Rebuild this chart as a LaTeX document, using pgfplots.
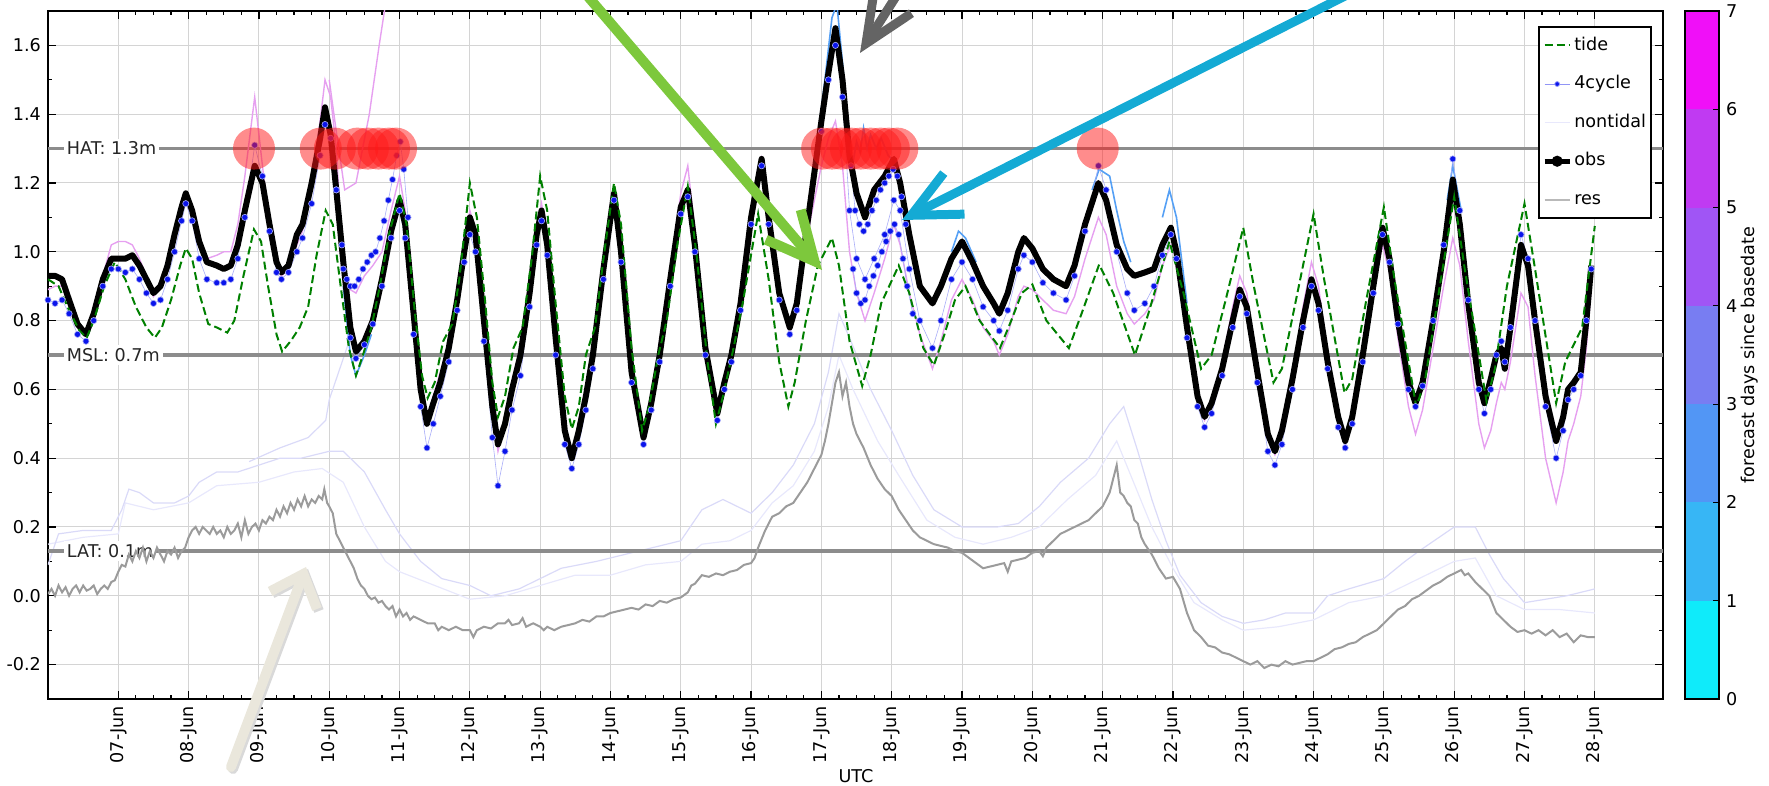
\documentclass[border=0pt]{standalone}
\usepackage{fontspec}
\setmainfont{DejaVu Sans}
\usepackage{pgfplots}
\pgfplotsset{compat=1.18}
\usepackage{pgfplotstable}
\usetikzlibrary{arrows.meta}

\definecolor{tidegreen}{RGB}{0,128,0}
\definecolor{dotblue}{RGB}{10,20,235}
\definecolor{pinkfc}{RGB}{230,160,240}
\definecolor{lbfc}{RGB}{85,160,245}
\definecolor{ntA}{RGB}{218,218,248}
\definecolor{ntB}{RGB}{232,232,252}
\definecolor{resgray}{RGB}{155,155,155}
\definecolor{hlgray}{RGB}{140,140,140}
\definecolor{blobred}{RGB}{255,25,25}
\definecolor{c0}{RGB}{15,235,250}
\definecolor{c1}{RGB}{55,182,245}
\definecolor{c2}{RGB}{82,150,245}
\definecolor{c3}{RGB}{120,125,242}
\definecolor{c4}{RGB}{160,85,245}
\definecolor{c5}{RGB}{192,58,242}
\definecolor{c6}{RGB}{240,15,248}
\definecolor{greenarrow}{RGB}{125,200,60}
\definecolor{grayarrow}{RGB}{100,100,100}
\definecolor{bluearrow}{RGB}{20,170,212}
\definecolor{beigearrow}{RGB}{234,231,220}

\newcommand{\lblfont}{\fontsize{8.8}{10.5}\selectfont}

\pgfplotstableread{
t obs b1 pk
6.00 0.93 0.86 0.89
6.10 0.93 0.85 0.90
6.20 0.92 0.86 0.90
6.30 0.86 0.82 0.86
6.42 0.79 0.76 0.79
6.54 0.76 0.74 0.76
6.65 0.82 0.80 0.82
6.78 0.92 0.90 0.93
6.90 0.98 0.95 1.02
7.00 0.98 0.95 1.03
7.10 0.98 0.94 1.03
7.20 0.99 0.95 1.02
7.30 0.96 0.92 0.98
7.40 0.92 0.88 0.93
7.50 0.88 0.85 0.87
7.60 0.90 0.86 0.90
7.70 0.96 0.92 0.97
7.80 1.05 1.00 1.05
7.90 1.13 1.09 1.12
7.96 1.17 1.14 1.16
8.05 1.12 1.09 1.11
8.15 1.03 0.98 1.02
8.26 0.97 0.92 0.98
8.40 0.96 0.91 0.99
8.50 0.95 0.91 1.00
8.60 0.96 0.92 1.00
8.70 1.02 0.98 1.08
8.80 1.12 1.10 1.22
8.94 1.25 1.31 1.45
9.05 1.20 1.22 1.25
9.15 1.08 1.06 1.08
9.25 0.97 0.94 0.96
9.32 0.94 0.92 0.93
9.42 0.96 0.94 0.95
9.54 1.05 1.00 1.02
9.62 1.08 1.04 1.06
9.75 1.20 1.14 1.20
9.87 1.33 1.28 1.38
9.94 1.42 1.37 1.50
10.02 1.34 1.33 1.45
10.10 1.18 1.18 1.30
10.20 0.97 0.95 0.95
10.30 0.78 0.75 0.89
10.38 0.71 0.69 0.88
10.50 0.74 0.73 0.93
10.62 0.80 0.79 0.96
10.75 0.92 0.90 1.00
10.88 1.06 1.04 1.12
11.00 1.15 1.12 1.22
11.08 1.08 1.04 1.12
11.20 0.82 0.76 0.84
11.30 0.60 0.55 0.62
11.39 0.50 0.43 0.50
11.48 0.56 0.50 0.58
11.58 0.62 0.58 0.65
11.70 0.72 0.68 0.74
11.82 0.86 0.83 0.88
11.92 1.00 0.97 1.02
12.00 1.10 1.05 1.12
12.08 1.05 1.00 1.06
12.20 0.80 0.74 0.80
12.32 0.55 0.46 0.54
12.40 0.44 0.32 0.42
12.50 0.50 0.42 0.50
12.60 0.60 0.54 0.60
12.72 0.70 0.64 0.70
12.85 0.88 0.84 0.88
12.95 1.05 1.02 1.06
13.02 1.12 1.09 1.14
13.10 1.02 0.99 1.03
13.22 0.75 0.70 0.76
13.35 0.48 0.44 0.49
13.45 0.40 0.37 0.40
13.55 0.48 0.44 0.48
13.65 0.58 0.54 0.58
13.75 0.70 0.66 0.70
13.90 0.95 0.92 0.95
14.05 1.17 1.15 1.18
14.15 1.00 0.97 1.00
14.30 0.65 0.62 0.65
14.47 0.46 0.44 0.46
14.58 0.56 0.54 0.57
14.70 0.70 0.68 0.71
14.85 0.92 0.90 0.94
15.00 1.13 1.11 1.17
15.10 1.18 1.16 1.25
15.20 1.02 1.00 1.06
15.35 0.72 0.70 0.74
15.52 0.53 0.51 0.53
15.62 0.62 0.60 0.63
15.72 0.70 0.68 0.72
15.85 0.85 0.83 0.87
16.00 1.10 1.08 1.12
16.15 1.27 1.25 1.27
16.25 1.10 1.08 1.10
16.40 0.88 0.86 0.87
16.55 0.78 0.76 0.76
16.65 0.85 0.83 0.84
16.80 1.08 1.05 1.05
17.00 1.38 1.35 1.25
17.10 1.52 1.50 1.33
17.20 1.65 1.60 1.38
17.30 1.50 1.45 1.25
17.40 1.28 1.12 1.00
17.50 1.17 0.98 0.88
17.62 1.10 0.92 0.80
17.75 1.18 0.98 0.88
17.90 1.22 1.05 0.98
18.03 1.27 1.15 1.08
18.12 1.20 1.12 1.02
18.25 1.05 0.95 0.88
18.40 0.90 0.80 0.76
18.58 0.85 0.72 0.66
18.70 0.90 0.80 0.74
18.85 0.98 0.92 0.86
19.00 1.03 0.97 0.92
19.15 0.97 0.92 0.86
19.30 0.90 0.84 0.78
19.45 0.85 0.80 0.74
19.53 0.82 0.77 0.70
19.65 0.88 0.83 0.76
19.80 1.00 0.95 0.87
19.88 1.04 0.99 0.90
20.00 1.01 0.97 0.89
20.15 0.95 0.91 0.86
20.30 0.92 0.88 0.83
20.48 0.90 0.86 0.82
20.60 0.96 0.93 0.87
20.75 1.08 1.06 0.98
20.94 1.20 1.25 1.10
21.05 1.15 1.18 1.05
21.20 1.02 1.00 0.90
21.35 0.95 0.88 0.82
21.45 0.93 0.83 0.79
21.60 0.94 0.85 0.82
21.73 0.95 0.90 0.86
21.85 1.02 0.99 0.96
21.97 1.07 1.05 1.02
22.05 1.00 0.98 0.98
22.20 0.78 0.75 0.76
22.35 0.58 0.55 0.56
22.45 0.52 0.49 0.51
22.55 0.56 0.53 0.56
22.70 0.66 0.64 0.68
22.85 0.80 0.78 0.84
22.95 0.89 0.87 0.93
23.05 0.84 0.82 0.88
23.20 0.65 0.62 0.66
23.35 0.47 0.42 0.46
23.45 0.42 0.38 0.41
23.55 0.48 0.44 0.47
23.70 0.63 0.60 0.64
23.85 0.80 0.78 0.84
23.97 0.92 0.90 0.97
24.07 0.85 0.83 0.90
24.20 0.68 0.66 0.70
24.35 0.52 0.49 0.51
24.45 0.45 0.43 0.44
24.55 0.52 0.50 0.50
24.70 0.70 0.68 0.68
24.85 0.90 0.88 0.88
24.98 1.07 1.05 1.02
25.08 0.98 0.97 0.94
25.20 0.80 0.79 0.75
25.35 0.62 0.60 0.55
25.45 0.56 0.55 0.47
25.55 0.62 0.61 0.54
25.70 0.80 0.80 0.72
25.85 1.00 1.02 0.90
25.98 1.21 1.27 1.04
26.08 1.08 1.12 0.96
26.20 0.85 0.86 0.74
26.35 0.62 0.60 0.50
26.43 0.56 0.53 0.43
26.52 0.63 0.60 0.48
26.60 0.70 0.70 0.56
26.67 0.72 0.74 0.62
26.72 0.66 0.68 0.60
26.80 0.78 0.78 0.68
26.95 1.02 1.05 0.88
27.05 0.96 0.98 0.84
27.15 0.80 0.80 0.64
27.30 0.58 0.55 0.40
27.45 0.45 0.40 0.27
27.55 0.52 0.48 0.36
27.62 0.60 0.57 0.45
27.70 0.62 0.60 0.50
27.80 0.65 0.64 0.58
27.88 0.80 0.80 0.72
27.95 0.96 0.95 0.90
}\obstab

\pgfplotstableread{
t v
6.00 0.92
6.15 0.90
6.30 0.83
6.45 0.77
6.55 0.75
6.65 0.80
6.80 0.90
6.95 0.97
7.10 0.92
7.25 0.84
7.40 0.78
7.52 0.75
7.62 0.78
7.75 0.86
7.88 0.96
7.96 1.01
8.05 0.98
8.15 0.88
8.28 0.79
8.40 0.78
8.55 0.765
8.65 0.80
8.78 0.93
8.93 1.065
9.03 1.03
9.13 0.90
9.25 0.76
9.33 0.71
9.45 0.74
9.58 0.78
9.70 0.84
9.82 0.99
9.95 1.12
10.05 1.08
10.15 0.92
10.28 0.72
10.38 0.64
10.48 0.70
10.60 0.78
10.72 0.90
10.85 1.05
11.00 1.17
11.10 1.08
11.22 0.82
11.32 0.64
11.40 0.575
11.50 0.62
11.62 0.74
11.75 0.79
11.85 0.92
11.92 1.05
12.00 1.20
12.10 1.10
12.22 0.85
12.32 0.62
12.40 0.52
12.50 0.58
12.62 0.72
12.75 0.78
12.88 0.98
13.00 1.22
13.10 1.12
13.22 0.85
13.35 0.58
13.45 0.485
13.55 0.55
13.65 0.70
13.78 0.78
13.90 0.98
14.05 1.20
14.15 1.08
14.30 0.72
14.45 0.48
14.55 0.55
14.68 0.70
14.80 0.80
14.95 1.02
15.10 1.19
15.22 1.00
15.38 0.68
15.50 0.50
15.60 0.58
15.75 0.72
15.88 0.85
16.10 1.11
16.25 0.92
16.40 0.68
16.53 0.55
16.62 0.62
16.78 0.80
16.95 0.96
17.15 1.04
17.25 0.96
17.40 0.74
17.58 0.61
17.70 0.70
17.85 0.85
18.10 0.96
18.25 0.88
18.45 0.72
18.60 0.67
18.75 0.76
18.90 0.86
19.05 0.90
19.25 0.80
19.54 0.72
19.70 0.80
19.85 0.88
20.00 0.905
20.20 0.80
20.52 0.72
20.70 0.82
20.95 0.963
21.15 0.88
21.46 0.70
21.65 0.82
21.95 1.03
22.15 0.88
22.40 0.66
22.55 0.70
22.75 0.86
23.00 1.07
23.15 0.90
23.43 0.62
23.55 0.66
23.75 0.86
24.00 1.11
24.15 0.92
24.44 0.59
24.55 0.63
24.75 0.86
25.00 1.13
25.15 0.92
25.46 0.55
25.58 0.62
25.78 0.88
26.00 1.16
26.15 0.95
26.46 0.565
26.58 0.66
26.75 0.90
27.00 1.14
27.15 0.95
27.45 0.56
27.58 0.68
27.70 0.73
27.82 0.78
28.00 1.075
}\tidetab

\pgfplotstableread{
t v
6.00 0.005
6.05 0.02
6.10 0.00
6.15 0.03
6.20 0.01
6.25 0.025
6.30 0.0
6.35 0.02
6.40 0.03
6.45 0.01
6.50 0.03
6.55 0.015
6.60 0.02
6.65 0.03
6.70 0.005
6.75 0.02
6.80 0.03
6.85 0.02
6.90 0.04
6.95 0.045
7.00 0.07
7.05 0.09
7.10 0.085
7.15 0.12
7.20 0.10
7.25 0.13
7.30 0.11
7.35 0.14
7.40 0.10
7.45 0.13
7.50 0.11
7.55 0.14
7.60 0.12
7.65 0.10
7.70 0.13
7.75 0.12
7.80 0.14
7.85 0.11
7.90 0.13
7.95 0.14
8.00 0.17
8.05 0.19
8.10 0.20
8.15 0.18
8.20 0.20
8.25 0.19
8.30 0.18
8.35 0.20
8.40 0.18
8.45 0.19
8.50 0.17
8.55 0.20
8.60 0.18
8.65 0.19
8.70 0.21
8.75 0.17
8.80 0.22
8.85 0.18
8.90 0.20
8.95 0.21
9.00 0.19
9.05 0.22
9.10 0.21
9.15 0.23
9.20 0.22
9.25 0.25
9.30 0.23
9.35 0.26
9.40 0.24
9.45 0.27
9.50 0.25
9.55 0.28
9.60 0.26
9.65 0.29
9.70 0.26
9.75 0.28
9.80 0.27
9.85 0.29
9.90 0.28
9.93 0.31
9.97 0.27
10.00 0.26
10.05 0.24
10.10 0.18
10.15 0.16
10.20 0.14
10.25 0.12
10.30 0.10
10.35 0.08
10.40 0.05
10.45 0.03
10.50 0.02
10.55 0.00
10.60 -0.01
10.65 -0.005
10.70 -0.02
10.75 -0.015
10.80 -0.03
10.85 -0.04
10.90 -0.03
10.95 -0.06
11.00 -0.04
11.05 -0.06
11.10 -0.05
11.15 -0.07
11.20 -0.06
11.30 -0.07
11.40 -0.08
11.50 -0.08
11.55 -0.10
11.60 -0.09
11.70 -0.10
11.80 -0.09
11.90 -0.10
12.00 -0.10
12.05 -0.12
12.10 -0.10
12.20 -0.09
12.30 -0.095
12.40 -0.08
12.50 -0.08
12.55 -0.07
12.60 -0.085
12.70 -0.08
12.75 -0.065
12.80 -0.09
12.90 -0.08
13.00 -0.09
13.05 -0.10
13.10 -0.09
13.20 -0.10
13.30 -0.09
13.40 -0.085
13.50 -0.08
13.60 -0.07
13.70 -0.075
13.80 -0.06
13.90 -0.06
14.00 -0.05
14.10 -0.045
14.20 -0.04
14.30 -0.035
14.40 -0.04
14.50 -0.025
14.60 -0.03
14.70 -0.015
14.80 -0.02
14.90 -0.01
15.00 -0.005
15.10 0.01
15.15 0.03
15.20 0.035
15.30 0.06
15.40 0.055
15.50 0.065
15.60 0.06
15.70 0.07
15.80 0.075
15.90 0.09
16.00 0.095
16.05 0.11
16.10 0.14
16.20 0.19
16.30 0.23
16.40 0.24
16.50 0.26
16.60 0.27
16.70 0.30
16.80 0.33
16.90 0.37
17.00 0.41
17.05 0.45
17.10 0.50
17.15 0.56
17.20 0.62
17.25 0.65
17.30 0.58
17.35 0.62
17.40 0.55
17.45 0.50
17.50 0.47
17.60 0.43
17.70 0.38
17.80 0.34
17.90 0.31
18.00 0.29
18.10 0.25
18.20 0.22
18.30 0.19
18.40 0.17
18.50 0.16
18.60 0.15
18.70 0.145
18.80 0.14
18.90 0.13
19.00 0.125
19.10 0.11
19.20 0.095
19.30 0.08
19.40 0.085
19.50 0.09
19.60 0.095
19.65 0.07
19.70 0.10
19.80 0.105
19.90 0.11
20.00 0.125
20.10 0.13
20.15 0.115
20.20 0.14
20.30 0.16
20.40 0.18
20.50 0.19
20.60 0.20
20.70 0.21
20.80 0.22
20.90 0.24
21.00 0.26
21.10 0.30
21.20 0.38
21.25 0.30
21.30 0.29
21.35 0.27
21.40 0.26
21.45 0.22
21.50 0.21
21.55 0.17
21.60 0.15
21.70 0.12
21.80 0.08
21.90 0.05
22.00 0.055
22.10 0.02
22.20 -0.05
22.30 -0.10
22.40 -0.12
22.50 -0.145
22.60 -0.15
22.70 -0.165
22.80 -0.17
22.90 -0.18
23.00 -0.19
23.10 -0.20
23.20 -0.19
23.30 -0.21
23.40 -0.20
23.50 -0.205
23.60 -0.19
23.70 -0.20
23.80 -0.195
23.90 -0.19
24.00 -0.19
24.10 -0.18
24.20 -0.17
24.30 -0.155
24.40 -0.15
24.50 -0.14
24.60 -0.135
24.70 -0.12
24.80 -0.11
24.90 -0.10
25.00 -0.08
25.10 -0.06
25.20 -0.04
25.30 -0.03
25.40 -0.01
25.50 0.00
25.60 0.015
25.70 0.03
25.80 0.04
25.90 0.055
26.00 0.065
26.05 0.07
26.10 0.075
26.15 0.06
26.20 0.065
26.30 0.04
26.40 0.02
26.50 0.0
26.60 -0.05
26.70 -0.07
26.80 -0.09
26.90 -0.105
27.00 -0.10
27.10 -0.11
27.20 -0.10
27.30 -0.115
27.40 -0.10
27.50 -0.12
27.60 -0.11
27.70 -0.135
27.80 -0.115
27.90 -0.12
28.00 -0.12
}\restab

\begin{document}
\begin{tikzpicture}
\useasboundingbox (0,0) rectangle (884.5pt,393pt);
\begin{axis}[
  at={(24pt,43.5pt)}, anchor=south west,
  scale only axis, width=807.5pt, height=344pt,
  xmin=6, xmax=28.97, ymin=-0.3, ymax=1.7,
  xtick={7,8,9,10,11,12,13,14,15,16,17,18,19,20,21,22,23,24,25,26,27,28},
  xticklabels={07-Jun,08-Jun,09-Jun,10-Jun,11-Jun,12-Jun,13-Jun,14-Jun,15-Jun,16-Jun,17-Jun,18-Jun,19-Jun,20-Jun,21-Jun,22-Jun,23-Jun,24-Jun,25-Jun,26-Jun,27-Jun,28-Jun},
  minor x tick num=3,
  ytick={-0.2,0,0.2,0.4,0.6,0.8,1.0,1.2,1.4,1.6},
  minor y tick num=1,
  tick align=inside,
  major tick length=4pt, minor tick length=2pt,
  every tick/.style={black, line width=0.6pt},
  axis line style={line width=1.1pt},
  grid=major,
  major grid style={line width=0.5pt, black!17},
  /pgf/number format/assume math mode=true,
  every tick label/.append style={font=\lblfont},
  yticklabel style={/pgf/number format/.cd, fixed, fixed zerofill, precision=1},
  xticklabel style={rotate=90, anchor=east},
  legend style={at={(0.9932,0.978)}, anchor=north east, draw=black, line width=1pt,
    fill=white, font=\lblfont, row sep=9pt,
    inner xsep=1.5pt, inner ysep=4pt,
    nodes={inner sep=1pt, text height=6.5pt, text depth=1.8pt}},
  legend cell align=left,
  legend image code/.code={\draw[#1, mark repeat=2, mark phase=2] plot coordinates {(0pt,0pt) (6.25pt,0pt) (12.5pt,0pt)};},
]
% legend images
\addlegendimage{tidegreen, line width=1pt, dash pattern=on 4pt off 2pt}
\addlegendentry{tide}
\addlegendimage{dotblue!45, line width=0.4pt, mark=*, mark size=1.2pt, mark options={fill=dotblue, draw=none}}
\addlegendentry{4cycle}
\addlegendimage{ntB, line width=0.6pt}
\addlegendentry{nontidal}
\addlegendimage{black, line width=2.6pt, mark=*, mark size=1.4pt}
\addlegendentry{obs}
\addlegendimage{resgray!70, line width=1pt}
\addlegendentry{res}

% nontidal faint lines
\addplot[forget plot, ntB, line width=0.6pt] coordinates {
(6.0,0.15) (6.5,0.17) (7.0,0.18) (7.1,0.27) (7.5,0.25) (8.0,0.27) (8.4,0.32) (9.0,0.33) (9.5,0.36) (9.9,0.37) (10.2,0.33) (10.5,0.2) (10.8,0.1) (11.0,0.07) (11.5,0.03) (12.0,-0.01) (12.5,0.0) (13.0,0.03) (13.5,0.06) (14.0,0.06) (14.5,0.09) (15.0,0.1) (15.3,0.15) (15.7,0.16) (16.0,0.19) (16.3,0.27) (16.6,0.32) (16.9,0.42) (17.1,0.55) (17.25,0.7) (17.45,0.6) (17.8,0.45) (18.1,0.35) (18.5,0.22) (18.9,0.17) (19.3,0.15) (19.7,0.17) (20.1,0.2) (20.5,0.28) (20.9,0.35) (21.2,0.45) (21.4,0.35) (21.7,0.2) (22.0,0.08) (22.3,-0.02) (22.7,-0.07) (23.0,-0.1) (23.5,-0.09) (24.0,-0.07) (24.5,-0.02) (25.0,0.0) (25.5,0.05) (26.0,0.1) (26.3,0.11) (26.6,0.0) (27.0,-0.04) (27.5,-0.04) (28.0,-0.05)};
\addplot[forget plot, ntA, line width=0.6pt] coordinates {
(6.0,0.09) (6.15,0.18) (6.5,0.19) (6.9,0.19) (7.05,0.25) (7.15,0.31) (7.3,0.30) (7.5,0.27) (7.8,0.27) (8.0,0.29) (8.15,0.33) (8.4,0.36) (8.7,0.36) (9.0,0.38) (9.3,0.40) (9.6,0.40) (10.0,0.42) (10.2,0.42) (10.5,0.36) (10.8,0.25) (11.0,0.18) (11.3,0.1) (11.6,0.05) (12.0,0.03) (12.3,0.0) (12.7,0.02) (13.0,0.05) (13.3,0.08) (13.8,0.1) (14.2,0.12) (14.6,0.14) (15.0,0.16) (15.3,0.25) (15.6,0.28) (16.0,0.24) (16.3,0.3) (16.6,0.38) (16.9,0.5) (17.1,0.65) (17.25,0.82) (17.4,0.75) (17.7,0.6) (18.0,0.48) (18.3,0.35) (18.6,0.25) (19.0,0.2) (19.5,0.2) (19.8,0.21) (20.1,0.26) (20.4,0.33) (20.8,0.4) (21.1,0.5) (21.3,0.55) (21.5,0.42) (21.7,0.28) (21.9,0.16) (22.1,0.06) (22.4,-0.02) (22.7,-0.06) (23.0,-0.08) (23.3,-0.07) (23.6,-0.05) (24.0,-0.05) (24.2,0.0) (24.5,0.02) (25.0,0.05) (25.3,0.1) (25.5,0.13) (26.0,0.2) (26.3,0.2) (26.5,0.12) (26.7,0.05) (27.0,-0.02) (27.3,-0.01) (27.6,0.0) (28.0,0.02)};
\addplot[forget plot, ntA, line width=0.6pt] coordinates {
(8.86,0.39) (9.3,0.43) (9.7,0.46) (9.95,0.51) (10.0,0.57) (10.15,0.66) (10.3,0.75)};

% datum lines
\addplot[forget plot, hlgray, line width=1.6pt] coordinates {(6,1.3) (28.97,1.3)};
\addplot[forget plot, hlgray, line width=1.6pt] coordinates {(6,0.7) (28.97,0.7)};
\addplot[forget plot, hlgray, line width=1.6pt] coordinates {(6,0.13) (28.97,0.13)};
\node[anchor=west, fill=white, inner sep=1.5pt, text=black!85, font=\lblfont] at (axis cs:6.22,1.3) {HAT: 1.3m};
\node[anchor=west, fill=white, inner sep=1.5pt, text=black!85, font=\lblfont] at (axis cs:6.22,0.7) {MSL: 0.7m};
\node[anchor=west, fill=white, inner sep=1.5pt, text=black!85, font=\lblfont] at (axis cs:6.22,0.13) {LAT: 0.1m};

% forecast lines
\addplot[forget plot, pinkfc, line width=0.7pt] table[x=t, y=pk] {\obstab};
\addplot[forget plot, pinkfc, line width=0.7pt] coordinates {
(10.0,1.5) (10.1,1.35) (10.22,1.18) (10.38,1.2) (10.57,1.4) (10.71,1.6) (10.8,1.72) (10.85,1.8)};
\addplot[forget plot, lbfc, line width=0.8pt] coordinates {(10.2,0.90) (10.3,0.70) (10.38,0.64) (10.5,0.70) (10.6,0.76)};
\addplot[forget plot, lbfc, line width=0.8pt] coordinates {
(16.9,1.25) (17.05,1.50) (17.15,1.68) (17.22,1.72) (17.3,1.55) (17.4,1.30) (17.45,1.26) (17.5,1.32) (17.55,1.29) (17.6,1.36) (17.65,1.30) (17.7,1.34) (17.78,1.30) (17.85,1.33) (17.95,1.28) (18.05,1.26) (18.15,1.18) (18.3,1.00) (18.45,0.88)};
\addplot[forget plot, lbfc, line width=0.8pt] coordinates {(18.85,1.0) (18.95,1.06) (19.05,1.04) (19.2,0.97)};
\addplot[forget plot, lbfc, line width=0.8pt] coordinates {(20.85,1.18) (20.95,1.24) (21.1,1.22) (21.2,1.12) (21.3,1.03) (21.4,0.97)};
\addplot[forget plot, lbfc, line width=0.8pt] coordinates {(21.85,1.10) (21.95,1.18) (22.05,1.10) (22.2,0.85)};
\addplot[forget plot, lbfc, line width=0.8pt] coordinates {(25.9,1.15) (25.98,1.25) (26.1,1.12)};

% 4cycle dots
\addplot[forget plot, dotblue!35, line width=0.3pt, mark=*, mark size=1.55pt, mark options={fill=dotblue, draw=none}] table[x=t, y=b1] {\obstab};
\addplot[forget plot, dotblue!35, line width=0.3pt, mark=*, mark size=1.55pt, mark options={fill=dotblue, draw=none}] coordinates {
(10.10,1.18) (10.18,1.02) (10.25,0.92) (10.30,0.90) (10.36,0.90) (10.42,0.92) (10.48,0.95) (10.54,0.97) (10.60,0.99) (10.66,1.00) (10.72,1.04) (10.78,1.09) (10.84,1.15) (10.90,1.21) (10.96,1.28) (11.01,1.32) (11.06,1.24) (11.12,1.10)};
\addplot[forget plot, dotblue!35, line width=0.3pt, mark=*, mark size=1.55pt, mark options={fill=dotblue, draw=none}] coordinates {
(17.45,0.95) (17.5,0.88) (17.56,0.85) (17.62,0.86) (17.68,0.90) (17.74,0.93) (17.8,0.96) (17.86,1.0) (17.92,1.03) (17.98,1.06) (18.04,1.08) (18.1,1.05) (18.16,0.98) (18.22,0.9) (18.3,0.82)};
\addplot[forget plot, dotblue!35, line width=0.3pt, mark=*, mark size=1.55pt, mark options={fill=dotblue, draw=none}] coordinates {
(17.42,1.25) (17.48,1.12) (17.54,1.08) (17.6,1.06) (17.66,1.08) (17.72,1.12) (17.78,1.15) (17.84,1.18) (17.9,1.2) (17.96,1.22) (18.02,1.24) (18.08,1.22) (18.14,1.16) (18.2,1.08)};

% obs
\addplot[forget plot, black, line width=3pt, line join=round] table[x=t, y=obs] {\obstab};
% tide
\addplot[forget plot, tidegreen, line width=1pt, dash pattern=on 4pt off 2pt] table[x=t, y=v] {\tidetab};
% residual
\addplot[forget plot, resgray, line width=1pt] table[x=t, y=v] {\restab};

% exceedance blobs
\addplot[forget plot, only marks, blobred, mark=*, mark size=10.5pt, opacity=0.5, mark options={draw opacity=0, fill=blobred, fill opacity=0.5}] coordinates {
(8.93,1.3) (9.88,1.3) (10.08,1.3) (10.4,1.3) (10.55,1.3) (10.7,1.3) (10.85,1.3) (10.95,1.3)
(17.01,1.3) (17.15,1.3) (17.28,1.3) (17.42,1.3) (17.56,1.3) (17.7,1.3) (17.84,1.3) (17.96,1.3) (18.08,1.3)
(20.93,1.3)};
\end{axis}

% colour bar
\begin{axis}[
  at={(842.5pt,43.5pt)}, anchor=south west,
  scale only axis, width=17pt, height=344pt,
  xmin=0, xmax=1, ymin=0, ymax=7,
  xtick=\empty, ytick={0,1,2,3,4,5,6,7},
  ytick pos=right, yticklabel pos=right,
  tick align=inside, major tick length=3pt,
  every tick/.style={black, line width=0.6pt},
  axis line style={line width=1pt},
  /pgf/number format/assume math mode=true,
  every tick label/.append style={font=\lblfont},
  axis on top,
]
\addplot[fill=c6, draw=none] coordinates {(0,7) (1,7)} \closedcycle;
\addplot[fill=c5, draw=none] coordinates {(0,6) (1,6)} \closedcycle;
\addplot[fill=c4, draw=none] coordinates {(0,5) (1,5)} \closedcycle;
\addplot[fill=c3, draw=none] coordinates {(0,4) (1,4)} \closedcycle;
\addplot[fill=c2, draw=none] coordinates {(0,3) (1,3)} \closedcycle;
\addplot[fill=c1, draw=none] coordinates {(0,2) (1,2)} \closedcycle;
\addplot[fill=c0, draw=none] coordinates {(0,1) (1,1)} \closedcycle;
\end{axis}
\node[rotate=90, font=\lblfont] at (875pt,215.5pt) {forecast days since basedate};
\node[font=\lblfont] at (428pt,5pt) {UTC};

% annotation arrows
\draw[line width=5pt, gray!30, line cap=round, -{Straight Barb[length=14pt,width=25pt]}] (116.5pt,8.5pt) -- (154pt,108.5pt);
\draw[line width=5pt, beigearrow, line cap=round, -{Straight Barb[length=14pt,width=25pt]}] (115.5pt,9.5pt) -- (153pt,109.5pt);
\draw[line width=5pt, greenarrow, -{Straight Barb[length=24pt,width=23pt]}] (203pt,501pt) -- (411pt,258pt);
\draw[line width=4.5pt, grayarrow, -{Straight Barb[length=25pt,width=22pt]}] (473pt,434pt) -- (430pt,366.5pt);
\draw[line width=4.5pt, bluearrow, -{Straight Barb[length=24pt,width=23pt]}] (808pt,463.5pt) -- (451pt,283pt);
\end{tikzpicture}
\end{document}
